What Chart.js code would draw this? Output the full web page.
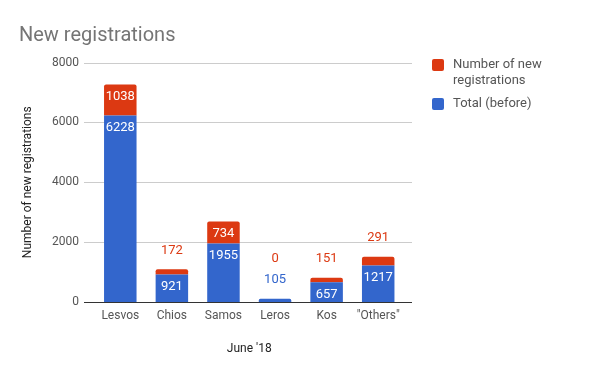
<!DOCTYPE html>
<html>
<head>
<meta charset="utf-8">
<script src="https://cdn.jsdelivr.net/npm/chart.js@4"></script>
<style>
  html,body{margin:0;padding:0;background:#fff;}
  #wrap{position:relative;width:600px;height:374px;font-family:Roboto,"Noto Sans",sans-serif;}
  canvas{position:absolute;left:0;top:0;}
  .lg{position:absolute;left:432px;font-size:13px;color:#555;line-height:16px;}
  .sq{position:absolute;left:0;width:12px;height:12px;border-radius:2px;}
  .lt{position:absolute;left:21px;top:0;white-space:nowrap;}
</style>
</head>
<body>
<div id="wrap">
  <canvas id="c" width="600" height="374"></canvas>
  <div class="lg" style="top:56px;"><div class="sq" style="background:#dc3912;top:2.5px"></div><div class="lt">Number of new<br>registrations</div></div>
  <div class="lg" style="top:95px;"><div class="sq" style="background:#3366cc;top:2.5px"></div><div class="lt">Total (before)</div></div>
</div>
<script>
const categories = ['Lesvos', 'Chios', 'Samos', 'Leros', 'Kos', '"Others"'];
const totalBefore = [6228, 921, 1955, 105, 657, 1217];
const newRegistrations = [1038, 172, 734, 0, 151, 291];
const yTicks = [0, 2000, 4000, 6000, 8000];

const BLUE = '#3366cc', RED = '#dc3912';

const gridPlugin = {
  id: 'gridExt',
  beforeDatasetsDraw(chart) {
    const ctx = chart.ctx, y = chart.scales.y, a = chart.chartArea;
    const x0 = a.left - 10.5, x1 = a.right + 8;
    ctx.save();
    ctx.lineWidth = 1;
    yTicks.forEach(v => {
      if (v === 0) return;
      const py = Math.round(y.getPixelForValue(v)) + 0.5;
      ctx.strokeStyle = '#cccccc';
      ctx.beginPath(); ctx.moveTo(x0, py); ctx.lineTo(x1, py); ctx.stroke();
    });
    ctx.restore();
  },
  afterDatasetsDraw(chart) {
    const ctx = chart.ctx, y = chart.scales.y, a = chart.chartArea;
    const x0 = a.left - 10.5, x1 = a.right + 8;
    const py = Math.round(y.getPixelForValue(0)) + 0.5;
    ctx.save();
    ctx.strokeStyle = '#333333'; ctx.lineWidth = 1;
    ctx.beginPath(); ctx.moveTo(x0, py); ctx.lineTo(x1, py); ctx.stroke();
    const mB = chart.getDatasetMeta(0).data, mR = chart.getDatasetMeta(1).data;
    ctx.font = '13px Roboto, "Noto Sans", sans-serif';
    ctx.textAlign = 'center'; ctx.textBaseline = 'middle';
    categories.forEach((c, i) => {
      const b = mB[i], r = mR[i];
      const segs = [
        {v: totalBefore[i], top: b.y, bot: b.base, col: BLUE},
        {v: newRegistrations[i], top: r.y, bot: r.base, col: RED}
      ];
      const stackTop = Math.min(b.y, r.y);
      let out = stackTop - 19;
      segs.forEach(s => {
        const h = s.bot - s.top;
        if (h >= 18) {
          ctx.fillStyle = '#ffffff';
          ctx.fillText(String(s.v), b.x, s.top + 12.5);
        } else {
          ctx.fillStyle = s.col;
          ctx.fillText(String(s.v), b.x, out);
          out -= 21;
        }
      });
    });
    ctx.restore();
  }
};

new Chart(document.getElementById('c'), {
  type: 'bar',
  data: {
    labels: categories,
    datasets: [
      {label: 'Total (before)', data: totalBefore, backgroundColor: BLUE, categoryPercentage: 0.63, barPercentage: 1, borderRadius: 2, borderSkipped: 'bottom'},
      {label: 'Number of new registrations', data: newRegistrations, backgroundColor: RED, categoryPercentage: 0.63, barPercentage: 1, borderRadius: {topLeft: 2, topRight: 2}, borderSkipped: 'bottom'}
    ]
  },
  options: {
    responsive: false,
    animation: false,
    events: [],
    layout: {padding: {left: 19, right: 196, top: 0, bottom: 18}},
    plugins: {
      legend: {display: false},
      tooltip: {enabled: false},
      title: {
        display: true, text: 'New registrations', align: 'start',
        color: '#757575', font: {family: 'Roboto', size: 20, weight: 'normal', lineHeight: 1.2},
        padding: {top: 23.5, bottom: 15}
      }
    },
    scales: {
      x: {
        stacked: true,
        grid: {display: false, drawTicks: false},
        border: {display: false},
        ticks: {color: '#555', font: {family: 'Roboto', size: 12}, padding: 7, maxRotation: 0},
        title: {display: true, text: "June '18", color: '#222', font: {family: 'Roboto', size: 12, lineHeight: 1.2}, padding: 0},
        afterFit(s) { s.height = 54; }
      },
      y: {
        stacked: true, min: 0, max: 8000,
        afterBuildTicks(s) { s.ticks = yTicks.map(v => ({value: v})); },
        grid: {display: false, drawTicks: false},
        border: {display: false},
        ticks: {color: '#555', font: {family: 'Roboto', size: 12}, padding: 15.5, callback: v => String(v)},
        title: {display: true, text: 'Number of new registrations', color: '#222', font: {family: 'Roboto', size: 12, lineHeight: 1.2}, padding: {top: 2, bottom: 0}},
        afterFit(s) { s.width = 75.5; }
      }
    }
  },
  plugins: [gridPlugin]
});
</script>
</body>
</html>
